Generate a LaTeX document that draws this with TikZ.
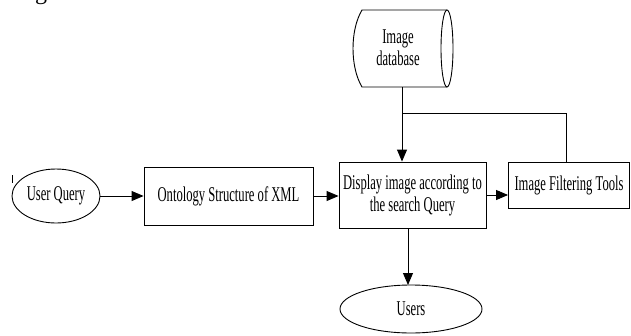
\documentclass[tikz,border=0pt]{standalone}
\usepackage{fontspec}
\setmainfont{Liberation Serif}
\newfontfamily\cond[FakeStretch=0.6]{Liberation Serif}
\usetikzlibrary{arrows.meta,shapes.geometric}
\tikzset{
  lbl/.style={font=\cond\fontsize{21}{22}\selectfont, align=center, inner sep=0pt},
  boxn/.style={lbl, draw, line width=0.9pt},
  ell/.style={lbl, draw, ellipse, line width=0.9pt},
  conn/.style={line width=0.9pt},
  arr/.style={conn, -{Triangle[length=12pt,width=10pt]}}
}
\begin{document}
\begin{tikzpicture}[x=1pt,y=-1pt]
\useasboundingbox (0,0) rectangle (631,335);
\begin{scope}
\clip (0,0) rectangle (631,335);
\node[anchor=base east, inner sep=0pt, font=\fontsize{24}{24}\selectfont] (top) at (64,-1) {image.};
\end{scope}
% tick
\draw[line width=0.6pt] (12,175) -- (12,183);
% nodes
\node[ell, minimum width=88pt, minimum height=54pt] (uq) at (56,196) {User Query};
\node[boxn, minimum width=169pt, minimum height=58pt] (onto) at (228.5,196) {Ontology Structure of XML};
\node[boxn, minimum width=147pt, minimum height=66pt] (disp) at (412.5,195) {Display image according to\\the search Query};
\node[boxn, minimum width=121pt, minimum height=46pt] (filt) at (569,185) {Image Filtering Tools};
\node[ell, minimum width=142pt, minimum height=48pt] (users) at (411,309) {Users};
% database cylinder
\draw[conn] (447,10) -- (362,10) .. controls (350,30) and (350,67) .. (362,87) -- (447,87);
\draw[conn] (447,48.5) ellipse [x radius=6, y radius=38.5];
\node[lbl] (db) at (398,48) {Image\\database};
\coordinate (dbb) at (402,87);
\coordinate (jn) at (402,113);
\coordinate (fr) at (566,113);
% connectors
\draw[arr] (uq.east) -- (onto.west);
\draw[arr] (onto.east) -- (onto.east -| disp.west);
\draw[arr] (disp.east |- 0,195) -- (filt.west |- 0,195);
\draw[arr] (dbb) -- (dbb |- disp.north);
\draw[conn] (jn) -- (fr) -- (fr |- filt.north);
\draw[arr] (408,228) -- (408,285);
\end{tikzpicture}
\end{document}
